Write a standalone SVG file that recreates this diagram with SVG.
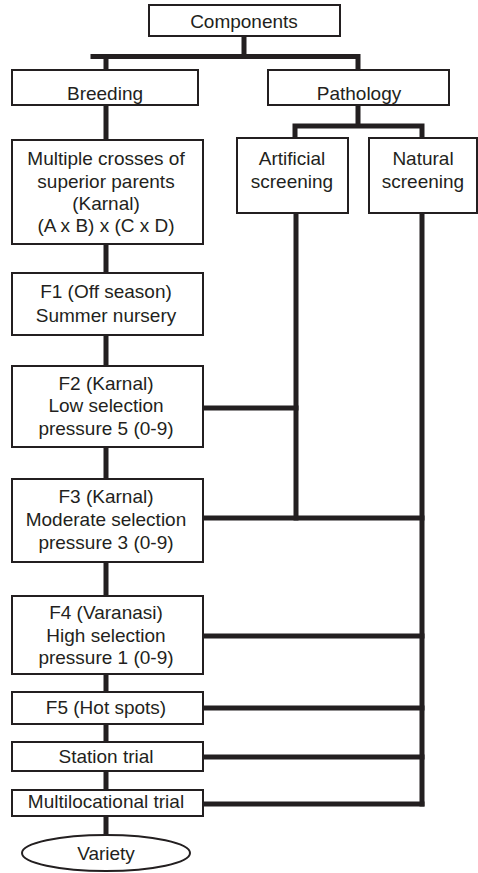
<svg xmlns="http://www.w3.org/2000/svg" width="478" height="873" viewBox="0 0 478 873">
<style>
.box{fill:#fff;stroke:#231f20;stroke-width:2}
.t{font-family:"Liberation Sans",Arial,sans-serif;font-size:19px;fill:#231f20;text-anchor:middle}
.c{fill:none;stroke:#231f20;stroke-width:5;stroke-linecap:square;stroke-linejoin:miter}
</style>
<rect width="478" height="873" fill="#fff"/>
<g id="connectors">
<path class="c" d="M244 36V56.5M93 56.5H358M106 56.5V70M358 56.5V70"/>
<path class="c" d="M106 105V140M106 244V273M106 335V366M106 447V479M106 562V596M106 674V692M106 724V742M106 771V790M106 816V835"/>
<path class="c" d="M358 105V126M295 126H422M295 126V138M422 126V138"/>
<path class="c" d="M296 213V518M422 213V804"/>
<path class="c" d="M203 408H296M203 518H422M203 636H422M203 708H422M203 757H422M203 804H422"/>
</g>
<g id="components"><rect class="box" x="149" y="5" width="191" height="31"/><text class="t" x="244" y="28">Components</text></g>
<g id="breeding"><rect class="box" x="12" y="70" width="186" height="35"/><text class="t" x="105" y="100">Breeding</text></g>
<g id="pathology"><rect class="box" x="268" y="70" width="181" height="35"/><text class="t" x="359" y="100">Pathology</text></g>
<g id="artificial"><rect class="box" x="237" y="138" width="111" height="75"/><text class="t" x="292" y="165">Artificial</text><text class="t" x="292" y="188">screening</text></g>
<g id="natural"><rect class="box" x="369" y="138" width="108" height="75"/><text class="t" x="423" y="165">Natural</text><text class="t" x="423" y="188">screening</text></g>
<g id="crosses"><rect class="box" x="12" y="140" width="191" height="104"/><text class="t" x="106" y="165">Multiple crosses of</text><text class="t" x="106" y="188">superior parents</text><text class="t" x="106" y="210">(Karnal)</text><text class="t" x="106" y="232">(A x B) x (C x D)</text></g>
<g id="f1"><rect class="box" x="12" y="273" width="191" height="62"/><text class="t" x="106" y="298">F1 (Off season)</text><text class="t" x="106" y="322">Summer nursery</text></g>
<g id="f2"><rect class="box" x="12" y="366" width="191" height="81"/><text class="t" x="106" y="390">F2 (Karnal)</text><text class="t" x="106" y="412">Low selection</text><text class="t" x="106" y="435">pressure 5 (0-9)</text></g>
<g id="f3"><rect class="box" x="12" y="479" width="191" height="83"/><text class="t" x="106" y="503">F3 (Karnal)</text><text class="t" x="106" y="526">Moderate selection</text><text class="t" x="106" y="549">pressure 3 (0-9)</text></g>
<g id="f4"><rect class="box" x="12" y="596" width="191" height="78"/><text class="t" x="106" y="619">F4 (Varanasi)</text><text class="t" x="106" y="642">High selection</text><text class="t" x="106" y="664">pressure 1 (0-9)</text></g>
<g id="f5"><rect class="box" x="12" y="692" width="191" height="32"/><text class="t" x="106" y="714">F5 (Hot spots)</text></g>
<g id="station"><rect class="box" x="12" y="742" width="191" height="29"/><text class="t" x="106" y="763">Station trial</text></g>
<g id="multiloc"><rect class="box" x="12" y="790" width="191" height="26"/><text class="t" x="106" y="808">Multilocational trial</text></g>
<g id="variety"><ellipse class="box" cx="106" cy="853" rx="84" ry="18"/><text class="t" x="106" y="860">Variety</text></g>
</svg>
